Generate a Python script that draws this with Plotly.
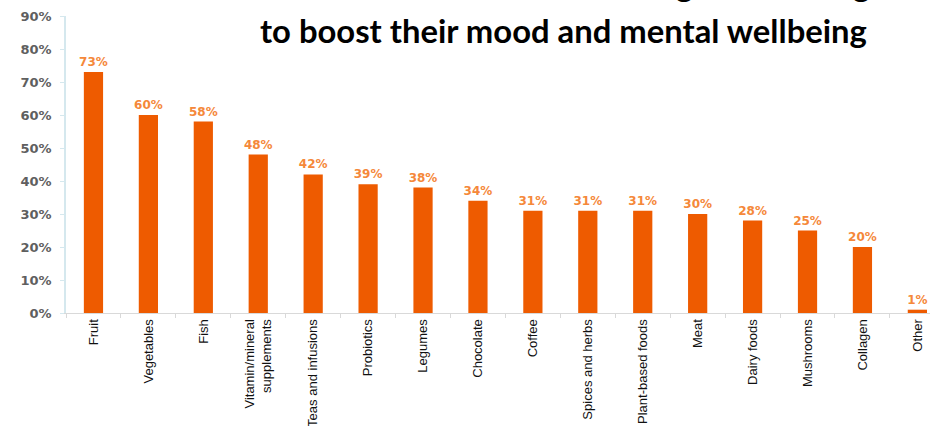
import plotly.graph_objects as go

categories = ["Fruit", "Vegetables", "Fish", "Vitamin/mineral<br>supplements",
              "Teas and infusions", "Probiotics", "Legumes", "Chocolate", "Coffee",
              "Spices and herbs", "Plant-based foods", "Meat", "Dairy foods",
              "Mushrooms", "Collagen", "Other"]
values = [73, 60, 58, 48, 42, 39, 38, 34, 31, 31, 31, 30, 28, 25, 20, 1]
y_ticks = [0, 10, 20, 30, 40, 50, 60, 70, 80, 90]
y_tick_labels = [f"{v}%" for v in y_ticks]
title_line1 = "Foods that consumers are eating or choosing"
title_line2 = "to boost their mood and mental wellbeing"

W, H = 930, 426
ML, MR, MT, MB = 66, 0, 16, 113
ph = H - MT - MB

def py(Y):
    return (H - MB - Y) / ph

fig = go.Figure(go.Bar(
    x=categories, y=values,
    marker=dict(color="#EE5B00", line=dict(width=0)),
    text=[f"<b>{v}%</b>" for v in values],
    textposition="outside",
    constraintext="none",
    textfont=dict(family="DejaVu Sans", size=12, color="#F5883A"),
    cliponaxis=False,
    width=0.35,
))

fig.update_layout(
    width=W, height=H,
    margin=dict(l=ML, r=MR, t=MT, b=MB),
    paper_bgcolor="white", plot_bgcolor="white",
    showlegend=False,
    xaxis=dict(
        type="category", range=[-0.5, 15.23],
        automargin=False,
        tickangle=-90,
        ticklabeloverflow="allow",
        tickfont=dict(family="Liberation Sans Narrow, Liberation Sans, Arial", size=13, color="#111111"),
        showline=True, linecolor="#D9D9D9", linewidth=1,
        ticks="outside", tickson="boundaries", ticklen=4, tickcolor="#D9D9D9",
        showgrid=False, zeroline=False,
    ),
    yaxis=dict(
        range=[0, 90],
        automargin=False,
        tickvals=y_ticks, ticktext=[f"<b>{t}</b>" for t in y_tick_labels],
        tickfont=dict(family="DejaVu Sans", size=13, color="#5F5F5F"),
        ticklabelstandoff=6,
        showline=True, linecolor="#D5E8EE", linewidth=1.5,
        ticks="outside", ticklen=4, tickcolor="#D5E8EE",
        showgrid=False, zeroline=False,
    ),
    annotations=[
        dict(text=f"<b>{title_line2}</b>", xref="paper", yref="paper",
             x=(258 - ML) / (W - ML - MR), y=py(30), xanchor="left", yanchor="middle",
             showarrow=False, font=dict(family="Lato", size=32.8, color="black")),
        dict(text=f"<b>{title_line1}</b>", xref="paper", yref="paper",
             x=(872 - ML) / (W - ML - MR), y=py(-16), xanchor="right", yanchor="middle",
             showarrow=False, font=dict(family="Lato", size=32.8, color="black")),
    ],
)

fig.write_html("out.html", config={"displayModeBar": False},
               post_script="document.body.style.margin='0';")
